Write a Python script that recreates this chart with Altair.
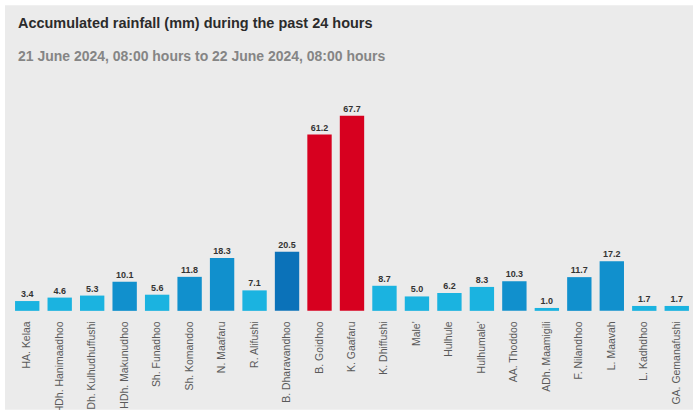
import altair as alt
import pandas as pd

stations = ["HA. Kelaa", "HDh. Hanimaadhoo", "HDh. Kulhudhuffushi", "HDh. Makunudhoo",
            "Sh. Funadhoo", "Sh. Komandoo", "N. Maafaru", "R. Alifushi", "B. Dharavandhoo",
            "B. Goidhoo", "K. Gaafaru", "K. Dhiffushi", "Male'", "Hulhule", "Hulhumale'",
            "AA. Thoddoo", "ADh. Maamigili", "F. Nilandhoo", "L. Maavah", "L. Kadhdhoo",
            "GA. Gemanafushi"]
rainfall = [3.4, 4.6, 5.3, 10.1, 5.6, 11.8, 18.3, 7.1, 20.5, 61.2, 67.7, 8.7, 5.0, 6.2,
            8.3, 10.3, 1.0, 11.7, 17.2, 1.7, 1.7]
thresholds = [10, 20, 50]
colors = ["#1bb3e0", "#1190cd", "#0b72b9", "#d7001f"]

df = pd.DataFrame({"station": stations, "rain": rainfall})

FONT = "Liberation Sans"

bg = alt.Chart(pd.DataFrame({"a": [0]})).mark_rect(color="#ebebeb", clip=False).encode(
    x=alt.value(-6), x2=alt.value(683), y=alt.value(-104), y2=alt.value(301)
)

x = alt.X("station:N", sort=stations, title=None,
          scale=alt.Scale(paddingInner=0.25, paddingOuter=0.125),
          axis=alt.Axis(labelAngle=270, labelFont=FONT, labelFontSize=10.5,
                        labelColor="#5a5a5a", labelPadding=10, ticks=False,
                        domain=False, labelLimit=200, zindex=2))
y = alt.Y("rain:Q", scale=alt.Scale(domain=[0, 70], nice=False), axis=None)

bars = alt.Chart(df).mark_bar().encode(
    x=x, y=y,
    color=alt.Color("rain:Q", legend=None,
                    scale=alt.Scale(type="threshold", domain=thresholds, range=colors)),
)
labels = alt.Chart(df).mark_text(dy=-7, font=FONT, fontSize=9, fontWeight="bold",
                                 color="#333333").encode(
    x=x, y=y, text=alt.Text("rain:Q", format=".1f")
)

chart = alt.layer(bg, bars, labels).properties(
    width=683, height=202,
    background="#ffffff",
    padding={"left": 11, "top": 109, "right": 0, "bottom": 99},
    autosize=alt.AutoSizeParams(type="none"),
    title=alt.TitleParams(
        text="Accumulated rainfall (mm) during the past 24 hours",
        subtitle="21 June 2024, 08:00 hours to 22 June 2024, 08:00 hours",
        anchor="start", frame="group", dx=7, offset=-60, zindex=2,
        font=FONT, fontSize=14.5, fontWeight="bold", color="#2b2b2b",
        subtitleFont=FONT, subtitleFontSize=14, subtitleFontWeight="bold",
        subtitleColor="#858585", subtitlePadding=19,
    ),
).configure_view(stroke=None)

chart.save("out.html", embed_options={"renderer": "svg", "actions": False})
